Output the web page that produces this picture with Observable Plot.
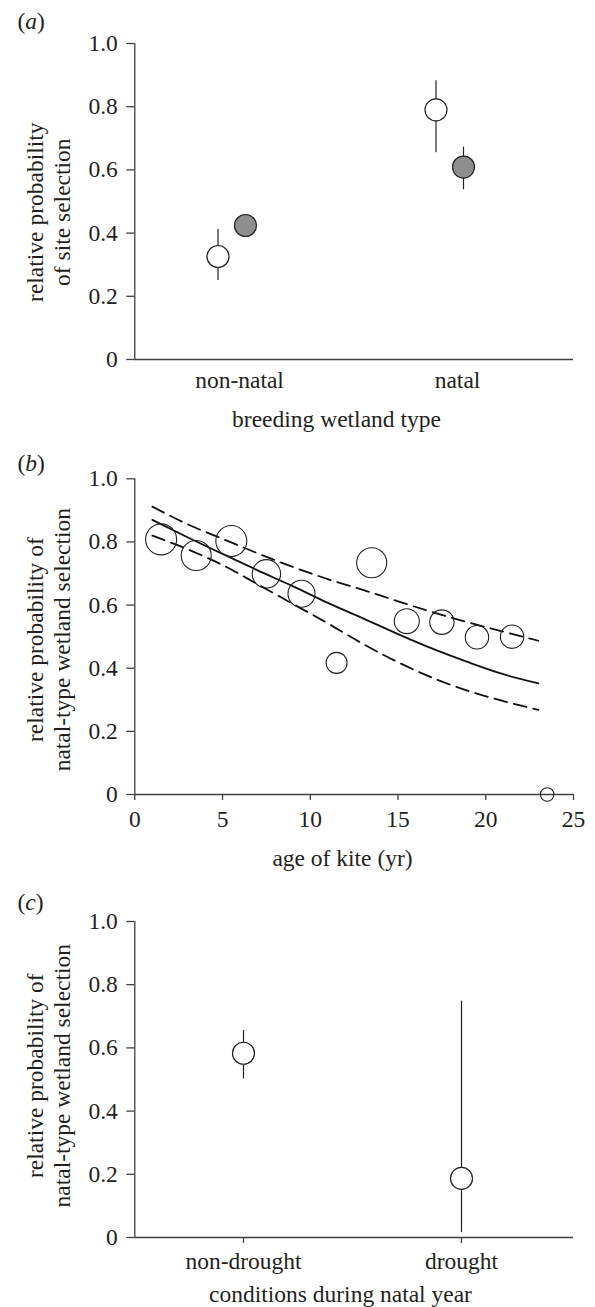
<!DOCTYPE html>
<html>
<head>
<meta charset="utf-8">
<script src="https://cdn.jsdelivr.net/npm/d3@7"></script>
<script src="https://cdn.jsdelivr.net/npm/@observablehq/plot@0.6"></script>
<style>
  body { margin: 0; background: #fff; }
  #chart { width: 595px; }
  #chart svg { display: block; }
</style>
</head>
<body>
<div id="chart"></div>
<script>
// ---------- panel (a): breeding wetland type ----------
const wetlandTypes = ["non-natal", "natal"];
const siteType  = ["non-natal", "non-natal", "natal", "natal"];
const siteGroup = ["open", "filled", "open", "filled"];
const siteProb  = [0.326, 0.424, 0.790, 0.609];
const siteLow   = [0.250, null, 0.654, 0.537];
const siteHigh  = [0.411, null, 0.882, 0.672];

// ---------- panel (b): age of kite ----------
const kiteAge  = [1.5, 3.5, 5.5, 7.5, 9.5, 11.5, 13.5, 15.5, 17.5, 19.5, 21.5, 23.5];
const kiteProb = [0.808, 0.757, 0.803, 0.699, 0.636, 0.417, 0.734, 0.549, 0.546, 0.498, 0.500, 0.000];
const kiteN    = [100, 94, 100, 84, 76, 46, 94, 65, 62, 57, 57, 19];
const fitAge   = [1, 3, 5, 7, 9, 11, 13, 15, 17, 19, 21, 23];
const fitMean  = [0.870, 0.815, 0.762, 0.710, 0.660, 0.607, 0.558, 0.508, 0.461, 0.419, 0.381, 0.352];
const fitUpper = [0.912, 0.856, 0.810, 0.764, 0.721, 0.682, 0.648, 0.612, 0.577, 0.545, 0.516, 0.487];
const fitLower = [0.820, 0.777, 0.727, 0.666, 0.604, 0.542, 0.477, 0.419, 0.369, 0.328, 0.296, 0.268];
const ageTicks = [0, 5, 10, 15, 20, 25];

// ---------- panel (c): natal-year conditions ----------
const conditions = ["non-drought", "drought"];
const condProb = [0.583, 0.187];
const condLow  = [0.502, 0.016];
const condHigh = [0.655, 0.748];

const probTicks = [0, 0.2, 0.4, 0.6, 0.8, 1.0];
const probFormat = d => d === 0 ? "0" : d.toFixed(1);

// ---------- styling ----------
const FONT = "'Liberation Serif', 'Times New Roman', Times, serif";
const FS = 23.5;
const INK = "#231f20";
const AXIS = "#404040";
const W = 595, ML = 134.3, MR = 22;
const frameCx = (ML + W - MR) / 2;

const style = {fontFamily: FONT, fontSize: FS + "px", color: INK, background: "#fff", overflow: "visible"};

function yAxisMarks() {
  return [
    Plot.axisY({ticks: probTicks, tickFormat: probFormat, tickSize: 8, tickPadding: 9, label: null,
      stroke: AXIS, strokeWidth: 1.3, fill: INK, fontSize: FS, fontFamily: FONT})
  ];
}
function yLabel(text, dy) {
  return Plot.text([text], {frameAnchor: "left", rotate: -90, textAnchor: "middle", lineAnchor: "middle",
    lineHeight: 1.15, dx: 47 - ML, dy, fill: INK, fontSize: FS, fontFamily: FONT});
}
function xLabel(text, cx, dy) {
  return Plot.text([text], {frameAnchor: "bottom", textAnchor: "middle", lineAnchor: "middle",
    dx: cx - frameCx, dy, fill: INK, fontSize: FS, fontFamily: FONT});
}
function panelLabel(text, dy) {
  return Plot.text([text], {frameAnchor: "top-left", textAnchor: "start", lineAnchor: "middle",
    dx: 17 - ML, dy, fill: INK, fontSize: FS, fontFamily: FONT});
}
function leftAxisLine() {
  // vertical axis line at the frame's left edge (x scale is categorical here)
  return Plot.ruleX([0], {x: null, y1: 0, y2: 1, dx: ML - frameCx, stroke: AXIS, strokeWidth: 1.3});
}

// ---------- panel (a) ----------
const siteRows = siteType.map((t, i) => ({type: t, group: siteGroup[i], p: siteProb[i], lo: siteLow[i], hi: siteHigh[i]}));
const openRows = siteRows.filter(d => d.group === "open");
const filledRows = siteRows.filter(d => d.group === "filled");

const chartA = Plot.plot({
  width: W, height: 440, marginTop: 43, marginBottom: 81, marginLeft: ML, marginRight: MR,
  style,
  x: {type: "point", domain: wetlandTypes, range: [238.5, 457], padding: 0},
  y: {domain: [0, 1]},
  marks: [
    ...yAxisMarks(),
    Plot.axisX({tickSize: 0, tickPadding: 12, label: null, fill: INK, fontSize: FS, fontFamily: FONT}),
    Plot.ruleY([0], {stroke: AXIS, strokeWidth: 1.3}),
    leftAxisLine(),
    Plot.ruleX(openRows.filter(d => d.lo != null), {x: "type", y1: "lo", y2: "hi", dx: -21.5, stroke: "#222", strokeWidth: 1.2}),
    Plot.ruleX(filledRows.filter(d => d.lo != null), {x: "type", y1: "lo", y2: "hi", dx: 6, stroke: "#222", strokeWidth: 1.2}),
    Plot.dot(openRows, {x: "type", y: "p", dx: -21.5, r: 11, fill: "#fff", stroke: "#222", strokeWidth: 1.2}),
    Plot.dot(filledRows, {x: "type", y: "p", dx: 6, r: 11, fill: "#8e8e8e", stroke: "#222", strokeWidth: 1.2}),
    yLabel("relative probability\nof site selection", 10.7),
    xLabel("breeding wetland type", 336, 60),
    panelLabel("(a)", -22.5)
  ]
});

// ---------- panel (b) ----------
const kiteRows = kiteAge.map((a, i) => ({age: a, p: kiteProb[i], n: kiteN[i]}));
const fitRows = fitAge.map((a, i) => ({age: a, mean: fitMean[i], upper: fitUpper[i], lower: fitLower[i]}));

const chartB = Plot.plot({
  width: W, height: 439.7, marginTop: 38.3, marginBottom: 85.7, marginLeft: ML, marginRight: MR,
  style,
  x: {domain: [0, 25]},
  y: {domain: [0, 1]},
  r: {type: "sqrt", domain: [0, 100], range: [0, 15.5]},
  marks: [
    ...yAxisMarks(),
    Plot.axisX({ticks: ageTicks, tickSize: 6, tickPadding: 10, label: null,
      stroke: AXIS, strokeWidth: 1.3, fill: INK, fontSize: FS, fontFamily: FONT}),
    Plot.ruleY([0], {stroke: AXIS, strokeWidth: 1.3}),
    Plot.ruleX([0], {y1: 0, y2: 1, stroke: AXIS, strokeWidth: 1.3}),
    Plot.line(fitRows, {x: "age", y: "upper", curve: "monotone-x", stroke: "#111", strokeWidth: 1.8, strokeDasharray: "13,7"}),
    Plot.line(fitRows, {x: "age", y: "lower", curve: "monotone-x", stroke: "#111", strokeWidth: 1.8, strokeDasharray: "13,7"}),
    Plot.line(fitRows, {x: "age", y: "mean", curve: "monotone-x", stroke: "#111", strokeWidth: 1.8}),
    Plot.dot(kiteRows, {x: "age", y: "p", r: "n", fill: "none", stroke: "#222", strokeWidth: 1.1}),
    yLabel("relative probability of\nnatal-type wetland selection", 3),
    xLabel("age of kite (yr)", 342, 64.2),
    panelLabel("(b)", -15)
  ]
});

// ---------- panel (c) ----------
const condRows = conditions.map((c, i) => ({cond: c, p: condProb[i], lo: condLow[i], hi: condHigh[i]}));

const chartC = Plot.plot({
  width: W, height: 427.3, marginTop: 41, marginBottom: 70.3, marginLeft: ML, marginRight: MR,
  style,
  x: {type: "point", domain: conditions, range: [243, 461.6], padding: 0},
  y: {domain: [0, 1]},
  marks: [
    ...yAxisMarks(),
    Plot.axisX({tickSize: 6, tickPadding: 8.6, label: null, stroke: AXIS, strokeWidth: 1.3, fill: INK, fontSize: FS, fontFamily: FONT}),
    Plot.ruleY([0], {stroke: AXIS, strokeWidth: 1.3}),
    leftAxisLine(),
    Plot.ruleX(condRows, {x: "cond", y1: "lo", y2: "hi", stroke: "#222", strokeWidth: 1.2}),
    Plot.dot(condRows, {x: "cond", y: "p", r: 11, fill: "#fff", stroke: "#222", strokeWidth: 1.2}),
    yLabel("relative probability of\nnatal-type wetland selection", -3.8),
    xLabel("conditions during natal year", 340, 57),
    panelLabel("(c)", -19.5)
  ]
});

const host = document.getElementById("chart");
for (const c of [chartA, chartB, chartC]) {
  host.appendChild(c);
  // italic panel letters: (a), (b), (c)
  d3.select(c).selectAll("text").each(function () {
    const t = this.textContent;
    const m = /^\(([abc])\)$/.exec(t);
    if (m && this.children.length === 0) {
      this.textContent = "";
      const s = d3.select(this);
      s.append("tspan").text("(");
      s.append("tspan").attr("font-style", "italic").text(m[1]);
      s.append("tspan").text(")");
    }
  });
}
</script>
</body>
</html>
